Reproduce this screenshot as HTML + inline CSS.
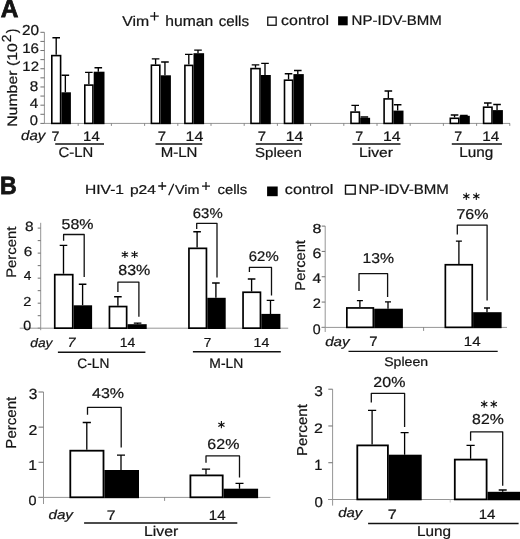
<!DOCTYPE html>
<html><head><meta charset="utf-8"><style>
html,body{margin:0;padding:0;background:#fff;}
svg{display:block;}
text{font-family:"Liberation Sans",sans-serif;fill:#141414;stroke:#141414;stroke-width:0.22px;}
svg{will-change:transform;}
</style></head><body>
<svg width="520" height="539" viewBox="0 0 520 539">
<rect width="520" height="539" fill="#fff"/>
<line x1="44.40" y1="32.30" x2="44.40" y2="123.90" stroke="#959595" stroke-width="1"/>
<line x1="40.40" y1="123.40" x2="44.40" y2="123.40" stroke="#707070" stroke-width="1"/>
<line x1="40.40" y1="114.29" x2="44.40" y2="114.29" stroke="#707070" stroke-width="1"/>
<line x1="40.40" y1="105.18" x2="44.40" y2="105.18" stroke="#707070" stroke-width="1"/>
<line x1="40.40" y1="96.07" x2="44.40" y2="96.07" stroke="#707070" stroke-width="1"/>
<line x1="40.40" y1="86.96" x2="44.40" y2="86.96" stroke="#707070" stroke-width="1"/>
<line x1="40.40" y1="77.85" x2="44.40" y2="77.85" stroke="#707070" stroke-width="1"/>
<line x1="40.40" y1="68.74" x2="44.40" y2="68.74" stroke="#707070" stroke-width="1"/>
<line x1="40.40" y1="59.63" x2="44.40" y2="59.63" stroke="#707070" stroke-width="1"/>
<line x1="40.40" y1="50.52" x2="44.40" y2="50.52" stroke="#707070" stroke-width="1"/>
<line x1="40.40" y1="41.41" x2="44.40" y2="41.41" stroke="#707070" stroke-width="1"/>
<line x1="40.40" y1="32.30" x2="44.40" y2="32.30" stroke="#707070" stroke-width="1"/>
<line x1="44.40" y1="123.40" x2="510.00" y2="123.40" stroke="#959595" stroke-width="1"/>
<line x1="78.20" y1="123.40" x2="78.20" y2="125.90" stroke="#707070" stroke-width="0.8"/>
<line x1="111.40" y1="123.40" x2="111.40" y2="125.90" stroke="#707070" stroke-width="0.8"/>
<line x1="144.60" y1="123.40" x2="144.60" y2="125.90" stroke="#707070" stroke-width="0.8"/>
<line x1="177.80" y1="123.40" x2="177.80" y2="125.90" stroke="#707070" stroke-width="0.8"/>
<line x1="211.00" y1="123.40" x2="211.00" y2="125.90" stroke="#707070" stroke-width="0.8"/>
<line x1="244.20" y1="123.40" x2="244.20" y2="125.90" stroke="#707070" stroke-width="0.8"/>
<line x1="277.40" y1="123.40" x2="277.40" y2="125.90" stroke="#707070" stroke-width="0.8"/>
<line x1="310.60" y1="123.40" x2="310.60" y2="125.90" stroke="#707070" stroke-width="0.8"/>
<line x1="343.80" y1="123.40" x2="343.80" y2="125.90" stroke="#707070" stroke-width="0.8"/>
<line x1="377.00" y1="123.40" x2="377.00" y2="125.90" stroke="#707070" stroke-width="0.8"/>
<line x1="410.20" y1="123.40" x2="410.20" y2="125.90" stroke="#707070" stroke-width="0.8"/>
<line x1="443.40" y1="123.40" x2="443.40" y2="125.90" stroke="#707070" stroke-width="0.8"/>
<line x1="476.60" y1="123.40" x2="476.60" y2="125.90" stroke="#707070" stroke-width="0.8"/>
<line x1="509.80" y1="123.40" x2="509.80" y2="125.90" stroke="#707070" stroke-width="0.8"/>
<path d="M56.20,54.80V37.70M52.40,37.70H60.00" fill="none" stroke="#000" stroke-width="1.35"/>
<path d="M65.35,92.30V75.20M61.55,75.20H69.15" fill="none" stroke="#000" stroke-width="1.35"/>
<rect x="51.80" y="55.60" width="8.80" height="67.80" fill="#fff" stroke="#000" stroke-width="1.6"/>
<rect x="61.40" y="92.30" width="9.50" height="31.90" fill="#000"/>
<path d="M88.85,84.30V72.30M85.05,72.30H92.65" fill="none" stroke="#000" stroke-width="1.35"/>
<path d="M98.30,71.70V67.70M94.50,67.70H102.10" fill="none" stroke="#000" stroke-width="1.35"/>
<rect x="84.80" y="85.10" width="8.10" height="38.30" fill="#fff" stroke="#000" stroke-width="1.6"/>
<rect x="93.70" y="71.70" width="10.80" height="52.50" fill="#000"/>
<path d="M155.60,64.40V58.80M151.80,58.80H159.40" fill="none" stroke="#000" stroke-width="1.35"/>
<path d="M164.95,75.30V62.00M161.15,62.00H168.75" fill="none" stroke="#000" stroke-width="1.35"/>
<rect x="151.40" y="65.20" width="8.40" height="58.20" fill="#fff" stroke="#000" stroke-width="1.6"/>
<rect x="160.60" y="75.30" width="10.30" height="48.90" fill="#000"/>
<path d="M188.80,64.60V54.30M185.00,54.30H192.60" fill="none" stroke="#000" stroke-width="1.35"/>
<path d="M198.00,53.20V50.10M194.20,50.10H201.80" fill="none" stroke="#000" stroke-width="1.35"/>
<rect x="184.90" y="65.40" width="7.80" height="58.00" fill="#fff" stroke="#000" stroke-width="1.6"/>
<rect x="193.50" y="53.20" width="10.60" height="71.00" fill="#000"/>
<path d="M255.50,67.80V64.90M251.70,64.90H259.30" fill="none" stroke="#000" stroke-width="1.35"/>
<path d="M265.00,75.00V63.40M261.20,63.40H268.80" fill="none" stroke="#000" stroke-width="1.35"/>
<rect x="251.00" y="68.60" width="9.00" height="54.80" fill="#fff" stroke="#000" stroke-width="1.6"/>
<rect x="260.80" y="75.00" width="10.00" height="49.20" fill="#000"/>
<path d="M288.55,79.40V73.70M284.75,73.70H292.35" fill="none" stroke="#000" stroke-width="1.35"/>
<path d="M297.80,74.10V70.50M294.00,70.50H301.60" fill="none" stroke="#000" stroke-width="1.35"/>
<rect x="284.50" y="80.20" width="8.10" height="43.20" fill="#fff" stroke="#000" stroke-width="1.6"/>
<rect x="293.40" y="74.10" width="10.40" height="50.10" fill="#000"/>
<path d="M355.20,111.30V105.40M351.40,105.40H359.00" fill="none" stroke="#000" stroke-width="1.35"/>
<path d="M364.35,117.80V117.00M360.55,117.00H368.15" fill="none" stroke="#000" stroke-width="1.35"/>
<rect x="351.00" y="112.10" width="8.40" height="11.30" fill="#fff" stroke="#000" stroke-width="1.6"/>
<rect x="360.20" y="117.80" width="9.90" height="6.40" fill="#000"/>
<path d="M388.35,98.10V91.00M384.55,91.00H392.15" fill="none" stroke="#000" stroke-width="1.35"/>
<path d="M397.65,110.60V104.70M393.85,104.70H401.45" fill="none" stroke="#000" stroke-width="1.35"/>
<rect x="384.10" y="98.90" width="8.50" height="24.50" fill="#fff" stroke="#000" stroke-width="1.6"/>
<rect x="393.40" y="110.60" width="10.10" height="13.60" fill="#000"/>
<path d="M454.55,117.50V115.00M450.75,115.00H458.35" fill="none" stroke="#000" stroke-width="1.35"/>
<path d="M463.90,115.80V115.40M460.10,115.40H467.70" fill="none" stroke="#000" stroke-width="1.35"/>
<rect x="450.30" y="118.30" width="8.50" height="5.10" fill="#fff" stroke="#000" stroke-width="1.6"/>
<rect x="459.60" y="115.80" width="10.20" height="8.40" fill="#000"/>
<path d="M487.80,106.40V103.00M484.00,103.00H491.60" fill="none" stroke="#000" stroke-width="1.35"/>
<path d="M497.05,110.10V104.50M493.25,104.50H500.85" fill="none" stroke="#000" stroke-width="1.35"/>
<rect x="483.60" y="107.20" width="8.40" height="16.20" fill="#fff" stroke="#000" stroke-width="1.6"/>
<rect x="492.80" y="110.10" width="10.10" height="14.10" fill="#000"/>
<line x1="55.20" y1="144.00" x2="104.00" y2="144.00" stroke="#111" stroke-width="1.4"/>
<line x1="155.50" y1="144.00" x2="202.20" y2="144.00" stroke="#111" stroke-width="1.4"/>
<line x1="255.80" y1="144.00" x2="302.20" y2="144.00" stroke="#111" stroke-width="1.4"/>
<line x1="352.40" y1="144.00" x2="400.50" y2="144.00" stroke="#111" stroke-width="1.4"/>
<line x1="451.80" y1="144.00" x2="501.90" y2="144.00" stroke="#111" stroke-width="1.4"/>
<rect x="267.75" y="17.15" width="8.4" height="8.1" fill="#fff" stroke="#111" stroke-width="1.3"/>
<rect x="338.1" y="16.3" width="9.6" height="9.0" fill="#000"/>
<path d="M150.20,16.20H158.80M154.50,11.90V20.50" stroke="#141414" stroke-width="1.3" fill="none"/>
<path d="M158.20,186.00H166.20M162.20,182.00V190.00" stroke="#141414" stroke-width="1.3" fill="none"/>
<line x1="168.70" y1="195.30" x2="173.80" y2="183.80" stroke="#141414" stroke-width="1.3"/>
<path d="M202.00,186.10H210.00M206.00,182.10V190.10" stroke="#141414" stroke-width="1.3" fill="none"/>
<rect x="267.1" y="186.5" width="10.6" height="9.7" fill="#000"/>
<rect x="345.5" y="185.3" width="9.7" height="8.8" fill="#fff" stroke="#111" stroke-width="1.4"/>
<line x1="40.70" y1="222.80" x2="40.70" y2="330.20" stroke="#959595" stroke-width="1"/>
<line x1="37.70" y1="328.20" x2="40.70" y2="328.20" stroke="#707070" stroke-width="1"/>
<line x1="37.70" y1="315.69" x2="40.70" y2="315.69" stroke="#707070" stroke-width="1"/>
<line x1="37.70" y1="303.18" x2="40.70" y2="303.18" stroke="#707070" stroke-width="1"/>
<line x1="37.70" y1="290.66" x2="40.70" y2="290.66" stroke="#707070" stroke-width="1"/>
<line x1="37.70" y1="278.15" x2="40.70" y2="278.15" stroke="#707070" stroke-width="1"/>
<line x1="37.70" y1="265.64" x2="40.70" y2="265.64" stroke="#707070" stroke-width="1"/>
<line x1="37.70" y1="253.12" x2="40.70" y2="253.12" stroke="#707070" stroke-width="1"/>
<line x1="37.70" y1="240.61" x2="40.70" y2="240.61" stroke="#707070" stroke-width="1"/>
<line x1="37.70" y1="228.10" x2="40.70" y2="228.10" stroke="#707070" stroke-width="1"/>
<line x1="19.70" y1="328.20" x2="288.20" y2="328.20" stroke="#959595" stroke-width="1"/>
<path d="M63.50,273.80V245.30M59.70,245.30H67.30" fill="none" stroke="#000" stroke-width="1.35"/>
<path d="M82.60,305.30V284.20M78.80,284.20H86.40" fill="none" stroke="#000" stroke-width="1.35"/>
<rect x="54.75" y="274.65" width="18.00" height="53.50" fill="#fff" stroke="#000" stroke-width="1.7"/>
<rect x="73.60" y="305.30" width="18.50" height="23.70" fill="#000"/>
<path d="M117.90,305.70V296.70M114.10,296.70H121.70" fill="none" stroke="#000" stroke-width="1.35"/>
<path d="M137.60,324.20V323.10M133.80,323.10H141.40" fill="none" stroke="#000" stroke-width="1.35"/>
<rect x="109.45" y="306.55" width="17.20" height="21.60" fill="#fff" stroke="#000" stroke-width="1.7"/>
<rect x="127.50" y="324.20" width="19.20" height="4.80" fill="#000"/>
<path d="M197.10,247.50V231.70M193.30,231.70H200.90" fill="none" stroke="#000" stroke-width="1.35"/>
<path d="M215.90,297.80V283.00M212.10,283.00H219.70" fill="none" stroke="#000" stroke-width="1.35"/>
<rect x="188.95" y="248.35" width="17.50" height="79.80" fill="#fff" stroke="#000" stroke-width="1.7"/>
<rect x="207.30" y="297.80" width="18.40" height="31.20" fill="#000"/>
<path d="M251.60,291.40V279.00M247.80,279.00H255.40" fill="none" stroke="#000" stroke-width="1.35"/>
<path d="M270.50,313.90V300.30M266.70,300.30H274.30" fill="none" stroke="#000" stroke-width="1.35"/>
<rect x="243.05" y="292.25" width="17.40" height="35.90" fill="#fff" stroke="#000" stroke-width="1.7"/>
<rect x="261.30" y="313.90" width="19.10" height="15.10" fill="#000"/>
<path d="M63.60,240.80V234.50H84.20V277.00" fill="none" stroke="#111" stroke-width="1.3" stroke-linejoin="round"/>
<path d="M117.90,292.00V282.10H138.90V316.80" fill="none" stroke="#111" stroke-width="1.3" stroke-linejoin="round"/>
<path d="M196.70,229.00V223.30H217.00V277.50" fill="none" stroke="#111" stroke-width="1.3" stroke-linejoin="round"/>
<path d="M249.40,272.10V267.40H271.50V295.60" fill="none" stroke="#111" stroke-width="1.3" stroke-linejoin="round"/>
<path d="M124.90,258.10L124.90,250.90M121.78,256.30L128.02,252.70M128.02,256.30L121.78,252.70" stroke="#111" stroke-width="1.1" fill="none"/>
<path d="M134.60,258.10L134.60,250.90M131.48,256.30L137.72,252.70M137.72,256.30L131.48,252.70" stroke="#111" stroke-width="1.1" fill="none"/>
<line x1="57.90" y1="352.20" x2="145.40" y2="352.20" stroke="#111" stroke-width="1.4"/>
<line x1="192.90" y1="351.80" x2="280.80" y2="351.80" stroke="#111" stroke-width="1.4"/>
<line x1="325.20" y1="226.10" x2="325.20" y2="332.00" stroke="#959595" stroke-width="1"/>
<line x1="321.70" y1="327.40" x2="325.20" y2="327.40" stroke="#707070" stroke-width="1"/>
<line x1="321.70" y1="302.07" x2="325.20" y2="302.07" stroke="#707070" stroke-width="1"/>
<line x1="321.70" y1="276.75" x2="325.20" y2="276.75" stroke="#707070" stroke-width="1"/>
<line x1="321.70" y1="251.42" x2="325.20" y2="251.42" stroke="#707070" stroke-width="1"/>
<line x1="321.70" y1="226.10" x2="325.20" y2="226.10" stroke="#707070" stroke-width="1"/>
<line x1="321.70" y1="327.40" x2="507.00" y2="327.40" stroke="#959595" stroke-width="1"/>
<line x1="423.60" y1="327.40" x2="423.60" y2="330.90" stroke="#707070" stroke-width="0.8"/>
<path d="M359.90,307.10V300.60M356.90,300.60H362.90" fill="none" stroke="#000" stroke-width="1.3"/>
<path d="M388.00,308.70V301.80M385.00,301.80H391.00" fill="none" stroke="#000" stroke-width="1.3"/>
<rect x="346.85" y="307.95" width="26.50" height="19.40" fill="#fff" stroke="#000" stroke-width="1.7"/>
<rect x="374.20" y="308.70" width="28.70" height="19.50" fill="#000"/>
<path d="M458.90,263.90V241.10M455.90,241.10H461.90" fill="none" stroke="#000" stroke-width="1.3"/>
<path d="M487.00,312.20V308.00M484.00,308.00H490.00" fill="none" stroke="#000" stroke-width="1.3"/>
<rect x="445.35" y="264.75" width="26.90" height="62.60" fill="#fff" stroke="#000" stroke-width="1.7"/>
<rect x="473.10" y="312.20" width="28.50" height="16.00" fill="#000"/>
<path d="M359.00,291.00V273.70H387.60V297.00" fill="none" stroke="#111" stroke-width="1.3" stroke-linejoin="round"/>
<path d="M457.30,234.50V225.10H487.10V300.50" fill="none" stroke="#111" stroke-width="1.3" stroke-linejoin="round"/>
<path d="M466.30,199.90L466.30,192.70M463.18,198.10L469.42,194.50M469.42,198.10L463.18,194.50" stroke="#111" stroke-width="1.1" fill="none"/>
<path d="M476.30,199.90L476.30,192.70M473.18,198.10L479.42,194.50M479.42,198.10L473.18,194.50" stroke="#111" stroke-width="1.1" fill="none"/>
<line x1="348.50" y1="351.40" x2="497.70" y2="351.40" stroke="#111" stroke-width="1.4"/>
<line x1="43.50" y1="392.00" x2="43.50" y2="504.00" stroke="#959595" stroke-width="1"/>
<line x1="38.50" y1="497.40" x2="43.50" y2="497.40" stroke="#707070" stroke-width="1"/>
<line x1="38.50" y1="462.27" x2="43.50" y2="462.27" stroke="#707070" stroke-width="1"/>
<line x1="38.50" y1="427.13" x2="43.50" y2="427.13" stroke="#707070" stroke-width="1"/>
<line x1="38.50" y1="392.00" x2="43.50" y2="392.00" stroke="#707070" stroke-width="1"/>
<line x1="38.50" y1="497.40" x2="270.40" y2="497.40" stroke="#959595" stroke-width="1"/>
<line x1="164.60" y1="497.40" x2="164.60" y2="500.90" stroke="#707070" stroke-width="0.8"/>
<path d="M86.80,449.80V422.50M82.70,422.50H90.90" fill="none" stroke="#000" stroke-width="1.3"/>
<path d="M121.00,470.00V455.20M117.00,455.20H125.00" fill="none" stroke="#000" stroke-width="1.3"/>
<rect x="70.30" y="450.70" width="33.20" height="46.60" fill="#fff" stroke="#000" stroke-width="1.8"/>
<rect x="104.40" y="470.00" width="34.60" height="28.20" fill="#000"/>
<path d="M206.00,474.50V469.20M201.90,469.20H210.10" fill="none" stroke="#000" stroke-width="1.3"/>
<path d="M239.50,488.70V483.40M235.50,483.40H243.50" fill="none" stroke="#000" stroke-width="1.3"/>
<rect x="190.40" y="475.40" width="32.30" height="21.90" fill="#fff" stroke="#000" stroke-width="1.8"/>
<rect x="223.60" y="488.70" width="34.50" height="9.50" fill="#000"/>
<path d="M87.50,414.80V407.40H121.20V447.60" fill="none" stroke="#111" stroke-width="1.3" stroke-linejoin="round"/>
<path d="M206.00,462.80V455.90H239.50V477.60" fill="none" stroke="#111" stroke-width="1.3" stroke-linejoin="round"/>
<path d="M221.40,428.30L221.40,421.10M218.28,426.50L224.52,422.90M224.52,426.50L218.28,422.90" stroke="#111" stroke-width="1.1" fill="none"/>
<line x1="84.10" y1="523.00" x2="237.30" y2="523.00" stroke="#111" stroke-width="1.4"/>
<line x1="332.60" y1="389.20" x2="332.60" y2="505.60" stroke="#959595" stroke-width="1"/>
<line x1="328.30" y1="499.50" x2="332.60" y2="499.50" stroke="#707070" stroke-width="1"/>
<line x1="328.30" y1="462.73" x2="332.60" y2="462.73" stroke="#707070" stroke-width="1"/>
<line x1="328.30" y1="425.97" x2="332.60" y2="425.97" stroke="#707070" stroke-width="1"/>
<line x1="328.30" y1="389.20" x2="332.60" y2="389.20" stroke="#707070" stroke-width="1"/>
<line x1="328.30" y1="499.50" x2="520.00" y2="499.50" stroke="#959595" stroke-width="1"/>
<line x1="450.20" y1="499.50" x2="450.20" y2="502.50" stroke="#bbb" stroke-width="0.8"/>
<path d="M372.10,444.50V410.30M368.00,410.30H376.20" fill="none" stroke="#000" stroke-width="1.3"/>
<path d="M404.60,454.70V432.70M400.60,432.70H408.60" fill="none" stroke="#000" stroke-width="1.3"/>
<rect x="357.30" y="445.40" width="30.60" height="54.00" fill="#fff" stroke="#000" stroke-width="1.8"/>
<rect x="388.80" y="454.70" width="32.90" height="45.60" fill="#000"/>
<path d="M470.60,458.70V445.40M466.50,445.40H474.70" fill="none" stroke="#000" stroke-width="1.3"/>
<path d="M502.70,491.80V490.00M498.70,490.00H506.70" fill="none" stroke="#000" stroke-width="1.3"/>
<rect x="454.80" y="459.60" width="31.80" height="39.80" fill="#fff" stroke="#000" stroke-width="1.8"/>
<rect x="487.50" y="491.80" width="33.50" height="8.50" fill="#000"/>
<path d="M371.30,402.60V393.30H404.60V427.10" fill="none" stroke="#111" stroke-width="1.3" stroke-linejoin="round"/>
<path d="M470.60,440.80V431.80H502.70V485.80" fill="none" stroke="#111" stroke-width="1.3" stroke-linejoin="round"/>
<path d="M484.20,407.70L484.20,400.50M481.08,405.90L487.32,402.30M487.32,405.90L481.08,402.30" stroke="#111" stroke-width="1.1" fill="none"/>
<path d="M493.80,407.70L493.80,400.50M490.68,405.90L496.92,402.30M496.92,405.90L490.68,402.30" stroke="#111" stroke-width="1.1" fill="none"/>
<line x1="368.10" y1="523.50" x2="518.60" y2="523.50" stroke="#111" stroke-width="1.4"/>
<text transform="translate(0.72,17.10) skewX(0.05)" font-size="25.03" style="stroke-width:0.8px" font-weight="bold" textLength="17.65" lengthAdjust="spacingAndGlyphs">A</text>
<text transform="translate(122.20,25.50) skewX(0.05)" font-size="14.16" textLength="26.92" lengthAdjust="spacingAndGlyphs">Vim</text>
<text transform="translate(165.32,25.50) skewX(0.05)" font-size="14.71" textLength="47.96" lengthAdjust="spacingAndGlyphs">human</text>
<text transform="translate(218.63,25.60) skewX(0.05)" font-size="14.57" textLength="30.35" lengthAdjust="spacingAndGlyphs">cells</text>
<text transform="translate(281.10,24.60) skewX(0.05)" font-size="13.75" textLength="47.95" lengthAdjust="spacingAndGlyphs">control</text>
<text transform="translate(351.62,24.90) skewX(0.05)" font-size="13.94" textLength="90.29" lengthAdjust="spacingAndGlyphs">NP-IDV-BMM</text>
<text transform="translate(16.70,125.60) rotate(-90) skewX(0.05)" x="-1.24" y="0" font-size="13.75" textLength="83.63" lengthAdjust="spacingAndGlyphs">Number (10</text>
<text transform="translate(11.00,41.50) rotate(-90) skewX(0.05)" x="-0.65" y="0" font-size="13.08" textLength="7.71" lengthAdjust="spacingAndGlyphs">2</text>
<text transform="translate(21.98,35.20) skewX(0.05)" font-size="14.51" textLength="17.10" lengthAdjust="spacingAndGlyphs">20</text>
<text transform="translate(22.15,53.00) skewX(0.05)" font-size="13.80" textLength="16.86" lengthAdjust="spacingAndGlyphs">16</text>
<text transform="translate(22.36,71.40) skewX(0.05)" font-size="13.51" textLength="16.64" lengthAdjust="spacingAndGlyphs">12</text>
<text transform="translate(29.72,90.50) skewX(0.05)" font-size="14.08" textLength="8.50" lengthAdjust="spacingAndGlyphs">8</text>
<text transform="translate(29.76,108.10) skewX(0.05)" font-size="13.80" textLength="8.52" lengthAdjust="spacingAndGlyphs">4</text>
<text transform="translate(29.74,125.40) skewX(0.05)" font-size="13.94" textLength="8.23" lengthAdjust="spacingAndGlyphs">0</text>
<text transform="translate(21.03,140.40) skewX(0.05)" font-size="13.62" font-style="italic" textLength="24.23" lengthAdjust="spacingAndGlyphs">day</text>
<text transform="translate(51.43,140.50) skewX(0.05)" font-size="13.65" textLength="7.95" lengthAdjust="spacingAndGlyphs">7</text>
<text transform="translate(157.80,140.50) skewX(0.05)" font-size="13.65" textLength="8.31" lengthAdjust="spacingAndGlyphs">7</text>
<text transform="translate(257.80,140.50) skewX(0.05)" font-size="13.65" textLength="8.31" lengthAdjust="spacingAndGlyphs">7</text>
<text transform="translate(355.13,140.50) skewX(0.05)" font-size="13.65" textLength="7.95" lengthAdjust="spacingAndGlyphs">7</text>
<text transform="translate(454.13,140.50) skewX(0.05)" font-size="13.65" textLength="7.95" lengthAdjust="spacingAndGlyphs">7</text>
<text transform="translate(83.06,140.50) skewX(0.05)" font-size="13.65" textLength="16.71" lengthAdjust="spacingAndGlyphs">14</text>
<text transform="translate(185.50,140.50) skewX(0.05)" font-size="13.65" textLength="17.80" lengthAdjust="spacingAndGlyphs">14</text>
<text transform="translate(285.71,140.50) skewX(0.05)" font-size="13.65" textLength="17.58" lengthAdjust="spacingAndGlyphs">14</text>
<text transform="translate(383.01,140.50) skewX(0.05)" font-size="13.65" textLength="17.58" lengthAdjust="spacingAndGlyphs">14</text>
<text transform="translate(482.34,140.50) skewX(0.05)" font-size="13.65" textLength="17.04" lengthAdjust="spacingAndGlyphs">14</text>
<text transform="translate(58.50,157.10) skewX(0.05)" font-size="14.08" textLength="34.71" lengthAdjust="spacingAndGlyphs">C-LN</text>
<text transform="translate(160.63,157.10) skewX(0.05)" font-size="14.08" textLength="36.70" lengthAdjust="spacingAndGlyphs">M-LN</text>
<text transform="translate(255.03,157.00) skewX(0.05)" font-size="13.21" textLength="46.81" lengthAdjust="spacingAndGlyphs">Spleen</text>
<text transform="translate(358.98,157.10) skewX(0.05)" font-size="13.48" textLength="33.90" lengthAdjust="spacingAndGlyphs">Liver</text>
<text transform="translate(459.30,157.10) skewX(0.05)" font-size="14.36" textLength="34.06" lengthAdjust="spacingAndGlyphs">Lung</text>
<text transform="translate(0.02,194.20) skewX(0.05)" font-size="25.03" style="stroke-width:0.8px" font-weight="bold" textLength="16.68" lengthAdjust="spacingAndGlyphs">B</text>
<text transform="translate(84.98,193.60) skewX(0.05)" font-size="13.23" textLength="39.05" lengthAdjust="spacingAndGlyphs">HIV-1</text>
<text transform="translate(129.92,193.60) skewX(0.05)" font-size="12.80" textLength="26.07" lengthAdjust="spacingAndGlyphs">p24</text>
<text transform="translate(175.00,193.60) skewX(0.05)" font-size="12.66" textLength="24.55" lengthAdjust="spacingAndGlyphs">Vim</text>
<text transform="translate(217.54,193.50) skewX(0.05)" font-size="13.48" textLength="29.73" lengthAdjust="spacingAndGlyphs">cells</text>
<text transform="translate(284.79,194.10) skewX(0.05)" font-size="13.75" textLength="48.68" lengthAdjust="spacingAndGlyphs">control</text>
<text transform="translate(358.42,194.00) skewX(0.05)" font-size="13.94" textLength="90.49" lengthAdjust="spacingAndGlyphs">NP-IDV-BMM</text>
<text transform="translate(15.70,276.70) rotate(-90) skewX(0.05)" x="-1.16" y="0" font-size="13.80" textLength="51.21" lengthAdjust="spacingAndGlyphs">Percent</text>
<text transform="translate(305.10,289.50) rotate(-90) skewX(0.05)" x="-1.15" y="0" font-size="14.22" textLength="50.60" lengthAdjust="spacingAndGlyphs">Percent</text>
<text transform="translate(15.70,447.50) rotate(-90) skewX(0.05)" x="-1.18" y="0" font-size="14.51" textLength="51.93" lengthAdjust="spacingAndGlyphs">Percent</text>
<text transform="translate(306.70,454.90) rotate(-90) skewX(0.05)" x="-1.18" y="0" font-size="14.36" textLength="51.93" lengthAdjust="spacingAndGlyphs">Percent</text>
<text transform="translate(24.92,230.50) skewX(0.05)" font-size="13.51" textLength="8.61" lengthAdjust="spacingAndGlyphs">8</text>
<text transform="translate(23.78,255.80) skewX(0.05)" font-size="13.23" textLength="8.54" lengthAdjust="spacingAndGlyphs">6</text>
<text transform="translate(23.78,280.40) skewX(0.05)" font-size="12.94" textLength="7.66" lengthAdjust="spacingAndGlyphs">4</text>
<text transform="translate(23.22,305.50) skewX(0.05)" font-size="13.08" textLength="8.07" lengthAdjust="spacingAndGlyphs">2</text>
<text transform="translate(23.16,330.40) skewX(0.05)" font-size="13.37" textLength="7.90" lengthAdjust="spacingAndGlyphs">0</text>
<text transform="translate(312.60,232.80) skewX(0.05)" font-size="12.94" textLength="8.96" lengthAdjust="spacingAndGlyphs">8</text>
<text transform="translate(312.55,258.00) skewX(0.05)" font-size="13.80" textLength="8.90" lengthAdjust="spacingAndGlyphs">6</text>
<text transform="translate(312.56,283.10) skewX(0.05)" font-size="13.94" textLength="8.63" lengthAdjust="spacingAndGlyphs">4</text>
<text transform="translate(312.71,307.80) skewX(0.05)" font-size="13.65" textLength="8.19" lengthAdjust="spacingAndGlyphs">2</text>
<text transform="translate(312.76,333.60) skewX(0.05)" font-size="13.80" textLength="7.90" lengthAdjust="spacingAndGlyphs">0</text>
<text transform="translate(28.72,398.70) skewX(0.05)" font-size="14.79" textLength="8.61" lengthAdjust="spacingAndGlyphs">3</text>
<text transform="translate(28.45,434.50) skewX(0.05)" font-size="14.22" textLength="8.90" lengthAdjust="spacingAndGlyphs">2</text>
<text transform="translate(28.22,469.50) skewX(0.05)" font-size="14.22" textLength="8.71" lengthAdjust="spacingAndGlyphs">1</text>
<text transform="translate(28.55,504.60) skewX(0.05)" font-size="13.37" textLength="8.01" lengthAdjust="spacingAndGlyphs">0</text>
<text transform="translate(314.22,395.80) skewX(0.05)" font-size="14.22" textLength="8.61" lengthAdjust="spacingAndGlyphs">3</text>
<text transform="translate(313.95,433.30) skewX(0.05)" font-size="13.65" textLength="8.90" lengthAdjust="spacingAndGlyphs">2</text>
<text transform="translate(314.28,469.80) skewX(0.05)" font-size="14.79" textLength="8.22" lengthAdjust="spacingAndGlyphs">1</text>
<text transform="translate(314.43,506.70) skewX(0.05)" font-size="14.22" textLength="8.34" lengthAdjust="spacingAndGlyphs">0</text>
<text transform="translate(61.50,228.80) skewX(0.05)" font-size="14.22" textLength="31.98" lengthAdjust="spacingAndGlyphs">58%</text>
<text transform="translate(118.30,275.40) skewX(0.05)" font-size="14.65" textLength="32.08" lengthAdjust="spacingAndGlyphs">83%</text>
<text transform="translate(192.80,217.60) skewX(0.05)" font-size="14.08" textLength="29.84" lengthAdjust="spacingAndGlyphs">63%</text>
<text transform="translate(248.80,260.80) skewX(0.05)" font-size="13.80" textLength="29.84" lengthAdjust="spacingAndGlyphs">62%</text>
<text transform="translate(362.51,262.90) skewX(0.05)" font-size="14.22" textLength="31.55" lengthAdjust="spacingAndGlyphs">13%</text>
<text transform="translate(456.45,219.40) skewX(0.05)" font-size="14.22" textLength="32.13" lengthAdjust="spacingAndGlyphs">76%</text>
<text transform="translate(92.05,398.20) skewX(0.05)" font-size="14.22" textLength="32.03" lengthAdjust="spacingAndGlyphs">43%</text>
<text transform="translate(207.35,448.70) skewX(0.05)" font-size="14.36" textLength="32.03" lengthAdjust="spacingAndGlyphs">62%</text>
<text transform="translate(373.35,387.10) skewX(0.05)" font-size="14.51" textLength="32.03" lengthAdjust="spacingAndGlyphs">20%</text>
<text transform="translate(472.11,424.20) skewX(0.05)" font-size="14.36" textLength="31.67" lengthAdjust="spacingAndGlyphs">82%</text>
<text transform="translate(30.27,346.70) skewX(0.05)" font-size="12.39" font-style="italic" textLength="22.17" lengthAdjust="spacingAndGlyphs">day</text>
<text transform="translate(67.45,346.90) skewX(0.05)" font-size="13.51" font-style="italic" textLength="8.01" lengthAdjust="spacingAndGlyphs">7</text>
<text transform="translate(119.73,346.80) skewX(0.05)" font-size="13.23" textLength="15.52" lengthAdjust="spacingAndGlyphs">14</text>
<text transform="translate(77.26,367.80) skewX(0.05)" font-size="13.65" textLength="32.06" lengthAdjust="spacingAndGlyphs">C-LN</text>
<text transform="translate(203.76,346.80) skewX(0.05)" font-size="13.08" textLength="7.59" lengthAdjust="spacingAndGlyphs">7</text>
<text transform="translate(253.52,346.80) skewX(0.05)" font-size="13.08" textLength="15.74" lengthAdjust="spacingAndGlyphs">14</text>
<text transform="translate(209.31,367.80) skewX(0.05)" font-size="13.80" textLength="34.02" lengthAdjust="spacingAndGlyphs">M-LN</text>
<text transform="translate(325.13,345.60) skewX(0.05)" font-size="13.07" font-style="italic" textLength="24.43" lengthAdjust="spacingAndGlyphs">day</text>
<text transform="translate(369.30,345.90) skewX(0.05)" font-size="13.65" textLength="8.31" lengthAdjust="spacingAndGlyphs">7</text>
<text transform="translate(463.85,345.80) skewX(0.05)" font-size="13.37" textLength="16.82" lengthAdjust="spacingAndGlyphs">14</text>
<text transform="translate(384.16,365.80) skewX(0.05)" font-size="12.66" textLength="43.93" lengthAdjust="spacingAndGlyphs">Spleen</text>
<text transform="translate(48.42,519.30) skewX(0.05)" font-size="12.94" font-style="italic" textLength="24.52" lengthAdjust="spacingAndGlyphs">day</text>
<text transform="translate(106.86,519.70) skewX(0.05)" font-size="13.80" textLength="8.78" lengthAdjust="spacingAndGlyphs">7</text>
<text transform="translate(208.85,519.60) skewX(0.05)" font-size="13.65" textLength="16.82" lengthAdjust="spacingAndGlyphs">14</text>
<text transform="translate(143.96,535.90) skewX(0.05)" font-size="14.03" textLength="34.31" lengthAdjust="spacingAndGlyphs">Liver</text>
<text transform="translate(338.13,516.60) skewX(0.05)" font-size="13.07" font-style="italic" textLength="24.03" lengthAdjust="spacingAndGlyphs">day</text>
<text transform="translate(387.64,518.80) skewX(0.05)" font-size="13.65" textLength="9.02" lengthAdjust="spacingAndGlyphs">7</text>
<text transform="translate(478.65,518.60) skewX(0.05)" font-size="13.51" textLength="16.82" lengthAdjust="spacingAndGlyphs">14</text>
<text transform="translate(417.00,535.90) skewX(0.05)" font-size="14.22" textLength="34.06" lengthAdjust="spacingAndGlyphs">Lung</text>
<text transform="translate(16.7,33.2) rotate(-90)" x="0" y="0" font-size="14.2" textLength="4.6" lengthAdjust="spacingAndGlyphs">)</text>
</svg>
</body></html>
